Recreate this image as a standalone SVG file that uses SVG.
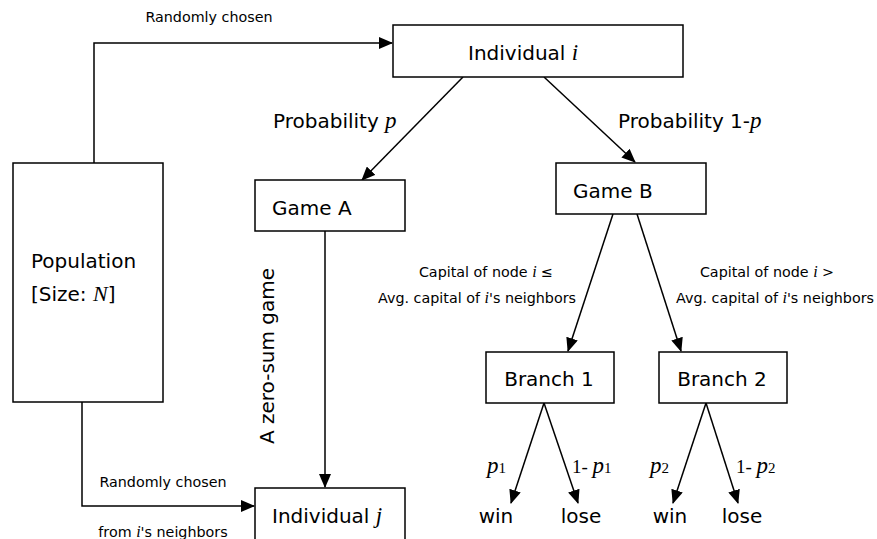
<svg xmlns="http://www.w3.org/2000/svg" width="877" height="539" viewBox="0 0 877 539">
<style>
.box{fill:#fff;stroke:#000;stroke-width:1.5}
.ln{fill:none;stroke:#000;stroke-width:1.5}
.t{font-family:"DejaVu Sans",Verdana,sans-serif;font-size:20px;fill:#000}
.s{font-family:"DejaVu Sans",Verdana,sans-serif;font-size:14.3px;fill:#000}
.it{font-family:"Liberation Serif","Times New Roman",serif;font-style:italic}
.sub{font-family:"Liberation Serif","Times New Roman",serif;font-size:15px}
</style>
<defs>
<marker id="ah" markerUnits="userSpaceOnUse" markerWidth="14" markerHeight="12" refX="13" refY="6" orient="auto">
<path d="M0,0 L14,6 L0,12 Z" fill="#000"/>
</marker>
</defs>
<g id="connectors">
<path class="ln" d="M94,163 V43 H392" marker-end="url(#ah)"/>
<path class="ln" d="M82,402 V506 H254" marker-end="url(#ah)"/>
<path class="ln" d="M463,77 L362,180" marker-end="url(#ah)"/>
<path class="ln" d="M544,77 L635,162" marker-end="url(#ah)"/>
<path class="ln" d="M325,231 V487" marker-end="url(#ah)"/>
<path class="ln" d="M613,214 L568,351" marker-end="url(#ah)"/>
<path class="ln" d="M637,214 L681,351" marker-end="url(#ah)"/>
<path class="ln" d="M544,403 L511,503" marker-end="url(#ah)"/>
<path class="ln" d="M544,403 L578,503" marker-end="url(#ah)"/>
<path class="ln" d="M706,403 L673,503" marker-end="url(#ah)"/>
<path class="ln" d="M706,403 L738,503" marker-end="url(#ah)"/>
</g>
<g id="labels">
<text class="s" x="209" y="22" text-anchor="middle">Randomly chosen</text>
<text class="s" x="163" y="487" text-anchor="middle">Randomly chosen</text>
<text class="s" x="163" y="537" text-anchor="middle">from <tspan class="it" font-size="16">i</tspan>'s neighbors</text>
<text class="t" x="273" y="128">Probability <tspan class="it" font-size="23">p</tspan></text>
<text class="t" x="618" y="128">Probability 1-<tspan class="it" font-size="23">p</tspan></text>
<text class="t" transform="translate(274,356) rotate(-90)" text-anchor="middle">A zero-sum game</text>
<text class="s" x="486" y="277" text-anchor="middle">Capital of node <tspan class="it" font-size="16">i</tspan> ≤</text>
<text class="s" x="576" y="303" text-anchor="end">Avg. capital of <tspan class="it" font-size="16">i</tspan>'s neighbors</text>
<text class="s" x="767" y="277" text-anchor="middle">Capital of node <tspan class="it" font-size="16">i</tspan> &gt;</text>
<text class="s" x="775" y="303" text-anchor="middle">Avg. capital of <tspan class="it" font-size="16">i</tspan>'s neighbors</text>
<text x="487" y="473"><tspan class="it" font-family="Liberation Serif" font-size="23">p</tspan><tspan class="sub" font-family="Liberation Serif">1</tspan></text>
<text x="572" y="473" font-family="Liberation Serif" font-size="19">1- <tspan class="it" font-size="23">p</tspan><tspan font-size="15">1</tspan></text>
<text x="650" y="473"><tspan class="it" font-family="Liberation Serif" font-size="23">p</tspan><tspan class="sub" font-family="Liberation Serif">2</tspan></text>
<text x="736" y="473" font-family="Liberation Serif" font-size="19">1- <tspan class="it" font-size="23">p</tspan><tspan font-size="15">2</tspan></text>
<text class="t" x="496" y="523" text-anchor="middle">win</text>
<text class="t" x="581" y="523" text-anchor="middle">lose</text>
<text class="t" x="670" y="523" text-anchor="middle">win</text>
<text class="t" x="742" y="523" text-anchor="middle">lose</text>
</g>
<g id="individual-i">
<rect class="box" x="393" y="25" width="290" height="52"/>
<text class="t" x="468" y="60">Individual <tspan class="it" font-size="23">i</tspan></text>
</g>
<g id="population">
<rect class="box" x="13" y="163" width="150" height="239"/>
<text class="t" x="31" y="268">Population</text>
<text class="t" x="31" y="301">[Size: <tspan class="it" font-size="22">N</tspan>]</text>
</g>
<g id="game-a">
<rect class="box" x="255" y="180" width="150" height="51"/>
<text class="t" x="272" y="215">Game A</text>
</g>
<g id="game-b">
<rect class="box" x="556" y="163" width="150" height="51"/>
<text class="t" x="573" y="198">Game B</text>
</g>
<g id="branch-1">
<rect class="box" x="486" y="352" width="128" height="51"/>
<text class="t" x="549" y="386" text-anchor="middle">Branch 1</text>
</g>
<g id="branch-2">
<rect class="box" x="659" y="352" width="128" height="51"/>
<text class="t" x="722" y="386" text-anchor="middle">Branch 2</text>
</g>
<g id="individual-j">
<rect class="box" x="255" y="488" width="150" height="70"/>
<text class="t" x="272" y="523">Individual <tspan class="it" font-size="23">j</tspan></text>
</g>
</svg>
